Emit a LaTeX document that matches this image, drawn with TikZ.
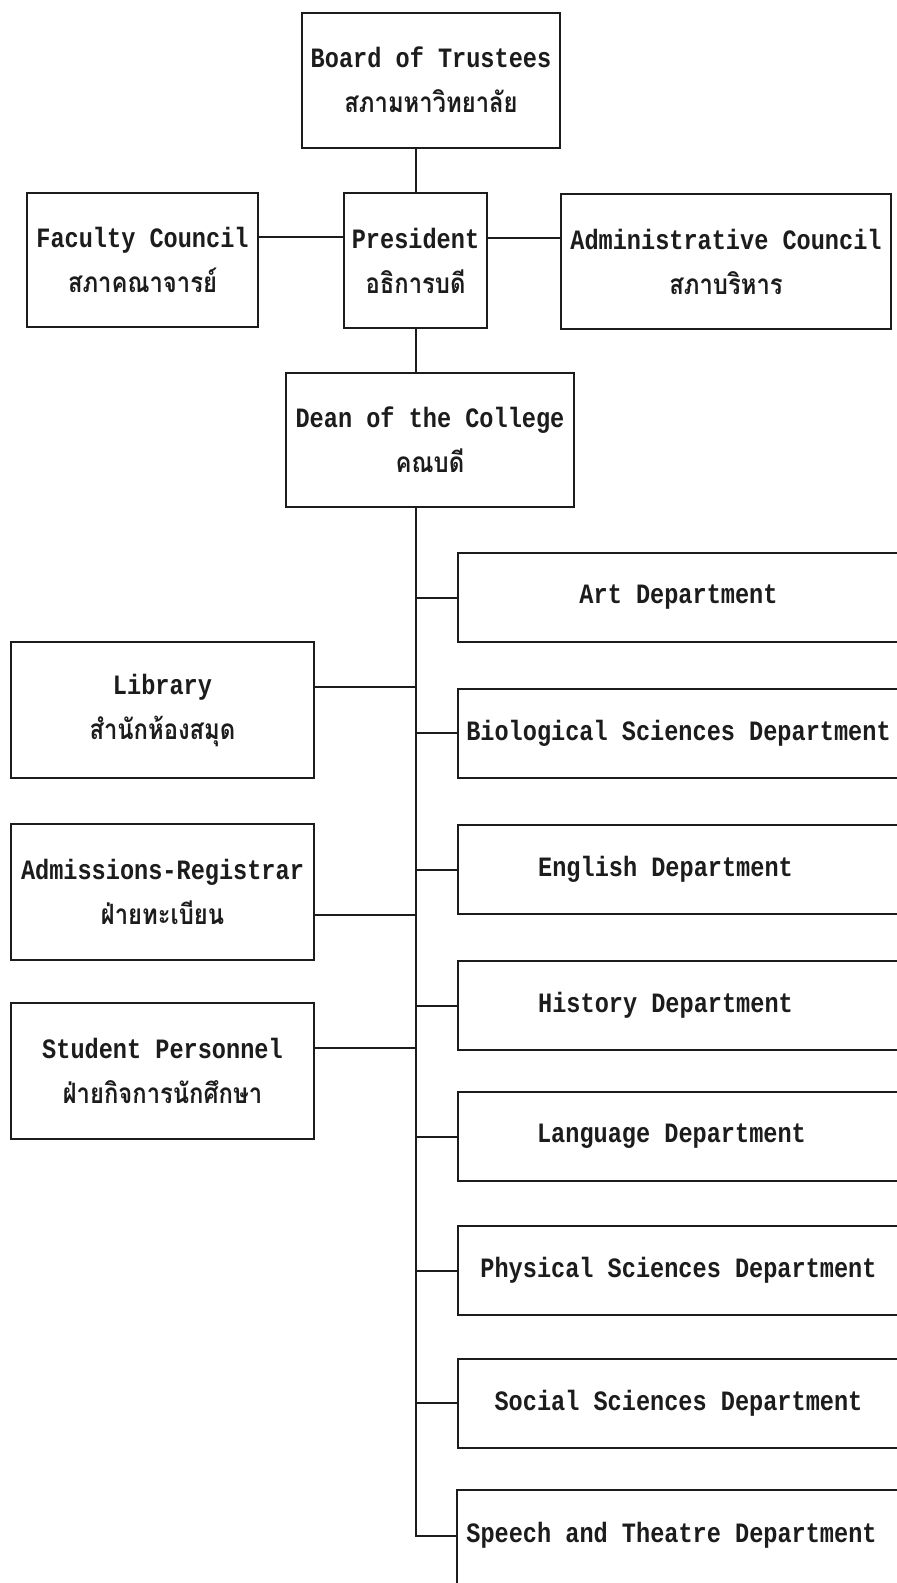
\documentclass[tikz,border=0pt]{standalone}
\usepackage{fontspec}
\newfontfamily\latinfont[FakeStretch=0.842]{Liberation Mono}
\newfontfamily\thaifont[Script=Thai,FakeStretch=0.85]{Loma}
\newcommand\enline[1]{{\latinfont\bfseries\fontsize{28pt}{45pt}\selectfont #1}}
\newcommand\thline[1]{{\thaifont\bfseries\fontsize{28pt}{45pt}\selectfont #1}}
\definecolor{ink}{RGB}{28,28,28}

\begin{document}
\begin{tikzpicture}[x=1pt,y=-1pt,
  box/.style={draw=ink,line width=2pt,rectangle,inner sep=0pt,align=center,
              text=ink,font=\fontsize{28pt}{45pt}\selectfont},
  sidebox/.style={box,minimum width=303pt,minimum height=136pt},
  deptbox/.style={box,minimum width=442pt,minimum height=89pt},
  link/.style={draw=ink,line width=2pt}]
\clip (0,0) rectangle (897,1583);
\fill[white] (0,0) rectangle (897,1583);

% top of the chart
\node[box,minimum width=258pt,minimum height=135pt] (board) at (431,80)
  {\enline{Board of Trustees}\\\thline{สภามหาวิทยาลัย}};
\node[box,minimum width=231pt,minimum height=134pt] (fac) at (142.5,260)
  {\enline{Faculty Council}\\\thline{สภาคณาจารย์}};
\node[box,minimum width=143pt,minimum height=135pt] (pres) at (415.5,260.5)
  {\enline{President}\\\thline{อธิการบดี}};
\node[box,minimum width=330pt,minimum height=135pt] (adm) at (726,261.5)
  {\enline{Administrative Council}\\\thline{สภาบริหาร}};
\node[box,minimum width=288pt,minimum height=134pt] (dean) at (430,440)
  {\enline{Dean of the College}\\\thline{คณบดี}};

% offices on the left
\node[sidebox] (lib) at (162.5,710)
  {\enline{Library}\\\thline{สำนักห้องสมุด}};
\node[sidebox] (adreg) at (162.5,891.5)
  {\enline{Admissions-Registrar}\\\thline{ฝ่ายทะเบียน}};
\node[sidebox] (stud) at (162.5,1071)
  {\enline{Student Personnel}\\\thline{ฝ่ายกิจการนักศึกษา}};

% departments on the right
\node[deptbox] (art)  at (678.5,597.5) {\enline{Art Department}};
\node[deptbox] (bio)  at (678.5,733)   {\enline{Biological Sciences Department}};
\node[deptbox] (eng)  at (678.5,869.5) {\enline{English Department}\hspace*{26pt}};
\node[deptbox] (hist) at (678.5,1005.5){\enline{History Department}\hspace*{26pt}};
\node[deptbox] (lang) at (678.5,1136.5){\enline{Language Department}\hspace*{14pt}};
\node[deptbox] (phys) at (678.5,1270.5){\enline{Physical Sciences Department}};
\node[deptbox] (soc)  at (678.5,1403)  {\enline{Social Sciences Department}};
\node[deptbox,draw=none] (speech) at (678.5,1535.5)
  {\enline{Speech and Theatre Department}\hspace*{14pt}};
\draw[link] ([yshift=-40pt]speech.south west) -- (speech.north west)
  -- (speech.north east);

% connectors
\draw[link] (pres.north) -- (pres.north |- board.south);
\draw[link] (pres.south) -- (pres.south |- dean.north);
\draw[link] ([yshift=23pt]fac.east) coordinate (jf) -- (jf -| pres.west);
\draw[link] ([yshift=23pt]pres.east) coordinate (ja) -- (ja -| adm.west);

\coordinate (spinetop) at (pres.south |- dean.south);
\draw[link] (spinetop) -- (spinetop |- speech.west) -- (speech.west);
\foreach \d in {art,bio,eng,hist,lang,phys,soc}
  \draw[link] (\d.west) -- (\d.west -| spinetop);

\coordinate (jlib) at (415.5,687);
\coordinate (jreg) at (415.5,915);
\coordinate (jstu) at (415.5,1048);
\draw[link] (jlib) -- (jlib -| lib.east);
\draw[link] (jreg) -- (jreg -| adreg.east);
\draw[link] (jstu) -- (jstu -| stud.east);
\end{tikzpicture}
\end{document}
